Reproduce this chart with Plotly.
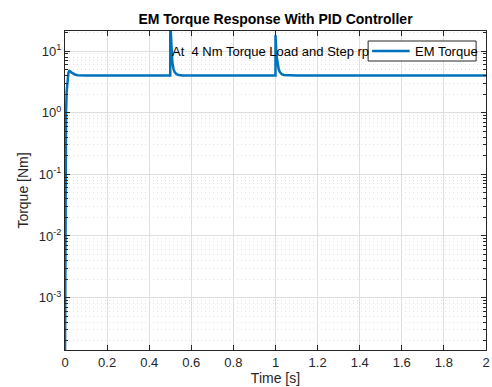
import plotly.graph_objects as go

# Data
time_s = [0, 0.001, 0.003, 0.005, 0.008, 0.012, 0.016, 0.02, 0.025, 0.03, 0.04, 0.05,
          0.06, 0.08, 0.1, 0.2, 0.3, 0.4, 0.5, 0.5001, 0.503, 0.506, 0.51, 0.515, 0.52,
          0.53, 0.54, 0.56, 0.6, 0.8, 1.0, 1.0001, 1.003, 1.006, 1.01, 1.015, 1.02,
          1.03, 1.04, 1.06, 1.1, 1.5, 2.0]
torque_nm = [1.0e-4, 0.01, 0.3, 1.0, 2.2, 3.5, 4.4, 4.75, 4.7, 4.5, 4.25, 4.12,
             4.06, 4.02, 4.0, 4.0, 4.0, 4.0, 4.0, 30, 15, 9, 6.5, 5.2, 4.6,
             4.2, 4.08, 4.02, 4.0, 4.0, 4.0, 18, 11, 8, 6.2, 5.1, 4.6,
             4.2, 4.08, 4.02, 4.0, 4.0, 4.0]
x_ticks = [0, 0.2, 0.4, 0.6, 0.8, 1, 1.2, 1.4, 1.6, 1.8, 2]
x_labels = ["0", "0.2", "0.4", "0.6", "0.8", "1", "1.2", "1.4", "1.6", "1.8", "2"]
y_ticks = [1e-3, 1e-2, 1e-1, 1, 10]
y_labels = ["10<sup>-3</sup>", "10<sup>-2</sup>", "10<sup>-1</sup>", "10<sup>0</sup>", "10<sup>1</sup>"]
series_name = "EM Torque"

FONT = "Liberation Sans, Arial, sans-serif"
AX = "#262626"
GRID = "#dfdfdf"
BLUE = "#0072BD"

W, H = 492, 387
L, R, T, B = 65, 2, 31, 37
PW, PH = W - L - R, H - T - B


def px(xp):
    return (xp - L) / PW


def py(yp):
    return (H - B - yp) / PH


fig = go.Figure()
fig.add_trace(go.Scatter(x=time_s, y=torque_nm, mode="lines", name=series_name,
                         line=dict(color=BLUE, width=2.5), showlegend=False))

# manual legend box (MATLAB style)
shapes = [
    dict(type="rect", xref="paper", yref="paper", x0=px(371), x1=px(480), y0=py(61), y1=py(41),
         line=dict(color=AX, width=1), fillcolor="white", layer="above"),
    dict(type="line", xref="paper", yref="paper", x0=px(375), x1=px(413), y0=py(51), y1=py(51),
         line=dict(color=BLUE, width=2.5), layer="above"),
]

fig.update_layout(
    width=W, height=H,
    margin=dict(l=L, r=R, t=T, b=B),
    paper_bgcolor="white", plot_bgcolor="white",
    font=dict(family=FONT, size=13, color=AX),
    title=dict(text="<b>EM Torque Response With PID Controller</b>",
               x=0.5, xref="paper", xanchor="center", y=1 - 19 / H, yanchor="middle",
               font=dict(family=FONT, size=14, color="black")),
    shapes=shapes,
    annotations=[
        dict(text="At  4 Nm Torque Load and Step rp", xref="paper", yref="paper",
             x=px(171), y=py(51), xanchor="left", yanchor="middle", showarrow=False,
             font=dict(family=FONT, size=13, color="black")),
        dict(text=series_name, xref="paper", yref="paper",
             x=px(416), y=py(51), xanchor="left", yanchor="middle", showarrow=False,
             font=dict(family=FONT, size=13, color="black")),
    ],
)

fig.update_xaxes(
    range=[0, 2], tickvals=x_ticks, ticktext=x_labels, ticklabeloverflow="allow",
    showline=True, linecolor=AX, linewidth=1, mirror="ticks",
    ticks="inside", ticklen=5, tickcolor=AX,
    showgrid=True, gridcolor=GRID, gridwidth=1, zeroline=False,
    tickfont=dict(size=13, color=AX),
    title=dict(text="Time [s]", font=dict(size=14, color=AX), standoff=3),
)
fig.update_yaxes(
    type="log", range=[-3.85, 1.325], tickvals=y_ticks, ticktext=y_labels,
    showline=True, linecolor=AX, linewidth=1, mirror="ticks",
    ticks="inside", ticklen=5, tickcolor=AX,
    showgrid=True, gridcolor=GRID, gridwidth=1, zeroline=False,
    tickfont=dict(size=13, color=AX),
    title=dict(text="Torque [Nm]", font=dict(size=14, color=AX), standoff=6),
    minor=dict(dtick="D1", ticks="inside", ticklen=3, tickcolor=AX,
               showgrid=True, gridcolor="#e2e2e2", griddash="1px,3px", gridwidth=1),
)

fig.write_html("out.html")
